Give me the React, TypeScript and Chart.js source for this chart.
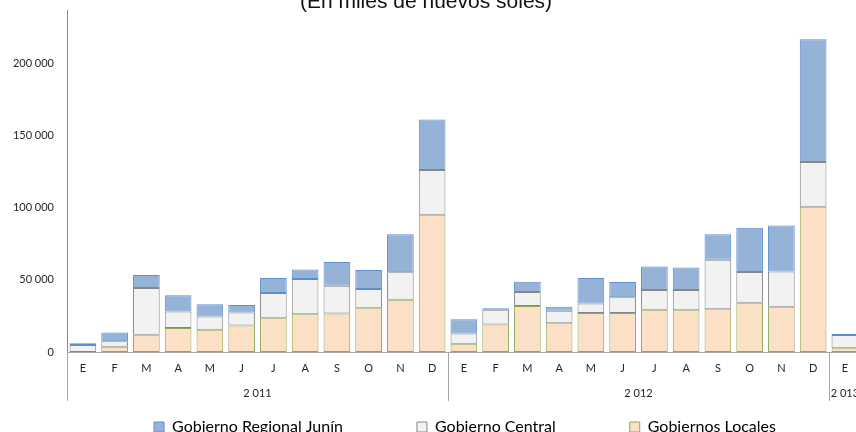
import React, { useEffect, useRef } from 'react';
import { Chart, registerables } from 'chart.js';

Chart.register(...registerables);

const months = ['E', 'F', 'M', 'A', 'M', 'J', 'J', 'A', 'S', 'O', 'N', 'D', 'E', 'F', 'M', 'A', 'M', 'J', 'J', 'A', 'S', 'O', 'N', 'D', 'E'];
const years = ['2 011', '2 012', '2 013'];
const yearSpans = [12, 12, 1];

const gobiernosLocales = [0, 3700, 12000, 16700, 15500, 18300, 23400, 26200, 26600, 30400, 36200, 95100,
  5800, 19000, 31800, 20000, 27100, 27100, 29200, 29000, 29700, 34100, 31300, 100600,
  2600];
const gobiernoCentral = [4870, 3750, 32300, 11300, 9050, 9050, 17400, 24350, 19250, 13200, 19000, 31000,
  6950, 10200, 9750, 8550, 6450, 10900, 13700, 13900, 34300, 21350, 24550, 31000,
  9250];
const gobiernoRegional = [1200, 6000, 9050, 11400, 8600, 5150, 10450, 6700, 16500, 13200, 26400, 35050,
  10000, 1200, 7150, 2800, 17650, 10450, 16400, 15700, 17600, 30600, 31800, 85150,
  700];

const yTicks = [0, 50000, 100000, 150000, 200000];
const yMax = 237000;
const titleText = '(En miles de nuevos soles)';

const fmt = (v: number) => String(v).replace(/\B(?=(\d{3})+(?!\d))/g, ' ');
const calibriLike = 'Lato, "Liberation Sans", sans-serif';
const LEGEND_FONT = 16;
const LEGEND_PAD = 74;
const TEXT_COLOR = '#262626';

const groupPlugin = {
  id: 'yearGroups',
  afterLayout(chart: any) {
    // pull the legend up so it sits right under the year labels
    const lg = chart.legend;
    if (!lg) return;
    const wantedTop = chart.chartArea.bottom + 75 - LEGEND_FONT / 2 - LEGEND_PAD;
    const d = lg.top - wantedTop;
    lg.top -= d;
    lg.bottom -= d;
  },
  afterDraw(chart: any) {
    const { ctx, chartArea } = chart;
    const x = chart.scales.x;
    const step = x.getPixelForValue(1) - x.getPixelForValue(0);
    ctx.save();
    ctx.strokeStyle = '#A6A6A6';
    ctx.lineWidth = 1;
    ctx.font = '11px ' + calibriLike;
    ctx.fillStyle = TEXT_COLOR;
    ctx.textAlign = 'center';
    ctx.textBaseline = 'middle';
    let start = 0;
    years.forEach((yr, i) => {
      const left = x.getPixelForValue(start) - step / 2;
      const right = x.getPixelForValue(start + yearSpans[i] - 1) + step / 2;
      const px = Math.round(left) + 0.5;
      ctx.beginPath();
      ctx.moveTo(px, chartArea.bottom);
      ctx.lineTo(px, chartArea.bottom + 49);
      ctx.stroke();
      ctx.fillText(yr, (left + right) / 2, chartArea.bottom + 41);
      start += yearSpans[i];
    });
    ctx.font = '21px "Liberation Sans", Arial, sans-serif';
    ctx.fillStyle = '#111';
    ctx.textBaseline = 'alphabetic';
    ctx.fillText(titleText, 426, chartArea.top - 2.5);
    ctx.restore();
  },
};

export default function App() {
  const ref = useRef<HTMLCanvasElement>(null);
  useEffect(() => {
    const chart = new Chart(ref.current as HTMLCanvasElement, {
      type: 'bar',
      data: {
        labels: months,
        datasets: [
          {
            label: 'Gobiernos Locales',
            data: gobiernosLocales,
            backgroundColor: '#FBE0C6',
            borderColor: '#8FA853',
            borderWidth: 1,
            borderSkipped: false,
          },
          {
            label: 'Gobierno Central',
            data: gobiernoCentral,
            backgroundColor: '#F2F2F2',
            borderColor: '#868686',
            borderWidth: 1,
            borderSkipped: false,
          },
          {
            label: 'Gobierno Regional Junín',
            data: gobiernoRegional,
            backgroundColor: '#95B3D7',
            borderColor: '#5B8ED4',
            borderWidth: 1,
            borderSkipped: false,
          },
        ],
      },
      options: {
        responsive: false,
        animation: false,
        datasets: { bar: { barPercentage: 0.84, categoryPercentage: 1 } },
        layout: { padding: { top: 10, left: 0, right: 0, bottom: 0 } },
        plugins: {
          legend: {
            position: 'bottom',
            reverse: true,
            labels: {
              boxWidth: 10,
              boxHeight: 10,
              padding: LEGEND_PAD,
              color: '#000',
              font: { family: calibriLike, size: LEGEND_FONT },
            },
          },
          tooltip: { enabled: false },
          title: { display: false },
        },
        scales: {
          x: {
            stacked: true,
            grid: { display: false, drawTicks: false },
            border: { display: true, color: '#A6A6A6' },
            ticks: {
              autoSkip: false,
              maxRotation: 0,
              padding: 10,
              color: TEXT_COLOR,
              font: { family: calibriLike, size: 11 },
            },
            afterFit: (s: any) => { s.height = 30; },
          },
          y: {
            stacked: true,
            min: 0,
            max: yMax,
            grid: { display: false, drawTicks: false },
            border: { display: true, color: '#8C8C8C' },
            afterBuildTicks: (s: any) => { s.ticks = yTicks.map((v) => ({ value: v })); },
            ticks: {
              padding: 13,
              color: TEXT_COLOR,
              font: { family: calibriLike, size: 11 },
              callback: (v: any) => fmt(Number(v)),
            },
            afterFit: (s: any) => { s.width = 67; s.paddingTop = 0; s.paddingBottom = 0; },
          },
          y2: {
            position: 'right',
            display: true,
            grid: { display: false, drawTicks: false },
            border: { display: false },
            ticks: { display: false },
            afterFit: (s: any) => { s.width = 69.25; s.paddingTop = 0; s.paddingBottom = 0; },
          },
        },
      },
      plugins: [groupPlugin],
    } as any);
    return () => chart.destroy();
  }, []);
  return (
    <div style={{ position: 'fixed', left: 0, top: 0, width: 856, height: 432, overflow: 'hidden', background: '#fff' }}>
      <canvas ref={ref} width={930} height={482} style={{ display: 'block' }} />
    </div>
  );
}
